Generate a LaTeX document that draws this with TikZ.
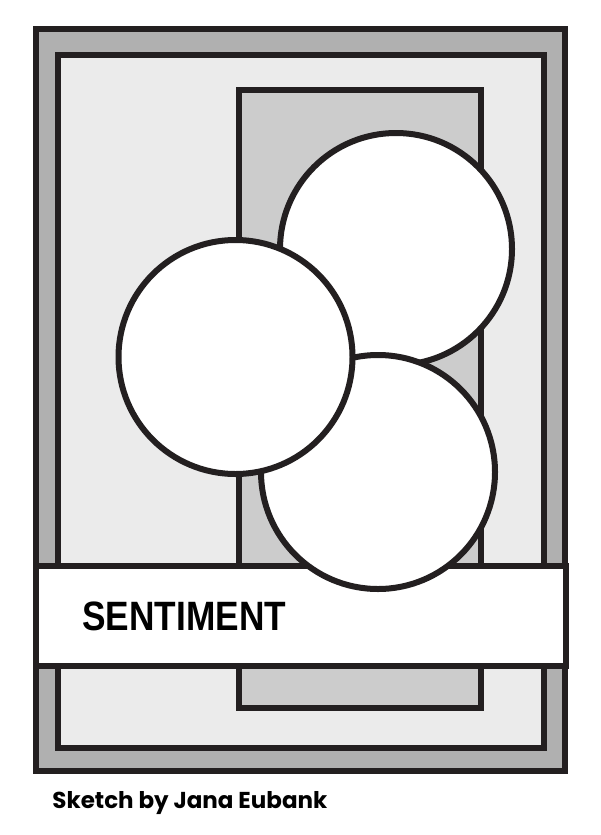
\documentclass[tikz,border=0pt]{standalone}
\usepackage{fontspec}
\setmainfont{Liberation Sans}
\newfontfamily\labelfont{Liberation Sans}[FakeStretch=0.86]
\newfontfamily\creditfont{Poppins}
\definecolor{ink}{HTML}{231F20}
\definecolor{matgray}{HTML}{B0B0B0}
\definecolor{cardgray}{HTML}{EBEBEB}
\definecolor{stripgray}{HTML}{CCCCCC}
\tikzset{
  panel/.style={draw=ink, line width=3pt},
  disc/.style={panel, fill=white}
}

\begin{document}
\begin{tikzpicture}[x=0.5pt,y=-0.5pt]
\useasboundingbox [fill=white] (0,0) rectangle (600,835);
% layers of the card
\draw [panel, fill=matgray] (36,29) rectangle (565,771);
\draw [panel, fill=cardgray] (58,55) rectangle (544,748);
\draw [panel, fill=stripgray] (239,89.5) rectangle (481,708);
% sentiment strip
\draw [panel, fill=white] (36,565.5) rectangle (565.5,665.5);
\node (sentiment) at (82,630) [anchor=base west, inner sep=0pt] {\labelfont\fontsize{20.5}{20.5}\selectfont\bfseries SENTIMENT};
% circles
\draw [disc] (396,249) circle [radius=116];
\draw [disc] (378,472) circle [radius=117];
\draw [disc] (235.5,357) circle [radius=117];
\node (credit) at (52,808) [anchor=base west, inner sep=0pt] {\creditfont\fontsize{11.5}{11.5}\selectfont\bfseries Sketch by Jana Eubank};
\end{tikzpicture}
\end{document}
